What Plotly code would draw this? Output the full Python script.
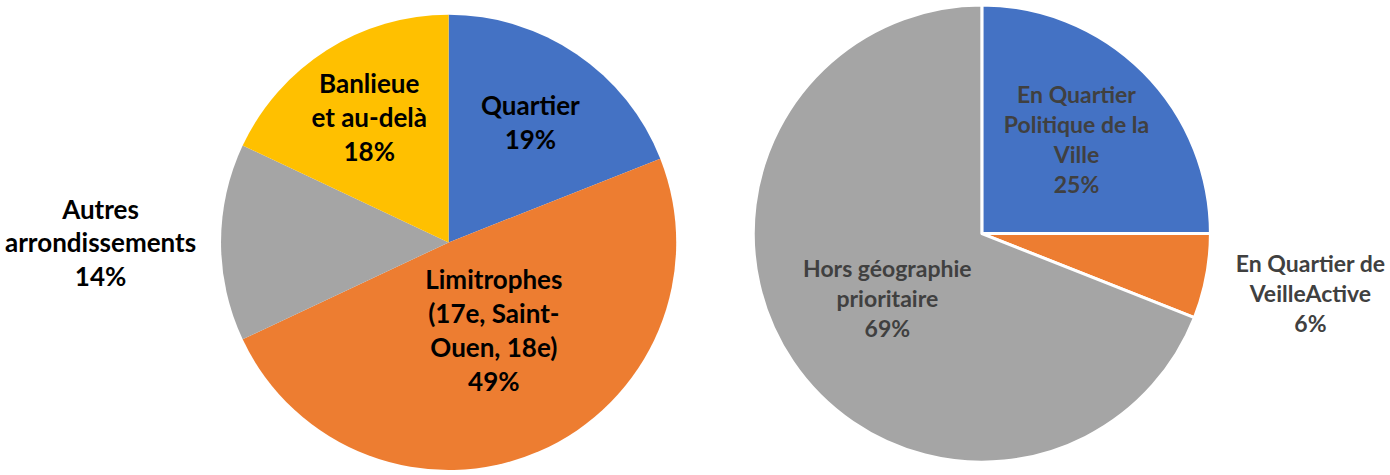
import plotly.graph_objects as go

# Left pie: origin of participants
left_labels = ["Quartier", "Limitrophes<br>(17e, Saint-<br>Ouen, 18e)", "Autres<br>arrondissements", "Banlieue<br>et au-delà"]
left_values = [19, 49, 14, 18]
left_colors = ["#4472C4", "#ED7D31", "#A5A5A5", "#FFC000"]
left_positions = ["inside", "inside", "outside", "inside"]

# Right pie: priority geography
right_labels = ["En Quartier<br>Politique de la<br>Ville", "En Quartier de<br>VeilleActive", "Hors géographie<br>prioritaire"]
right_values = [25, 6, 69]
right_colors = ["#4472C4", "#ED7D31", "#A5A5A5"]
right_positions = ["inside", "outside", "inside"]

W, H = 1390, 475
BASE = "%{label}<br>%{percent:.0%}"
PAD = "\u00a0"

left_templates = [BASE, BASE + "<br>" + PAD, BASE, BASE]
right_templates = [BASE, PAD + "<br>" + BASE, BASE]

fig = go.Figure()

fig.add_trace(go.Pie(
    labels=left_labels,
    values=left_values,
    sort=False,
    direction="clockwise",
    rotation=0,
    marker=dict(colors=left_colors, line=dict(width=0)),
    texttemplate=left_templates,
    textposition=left_positions,
    insidetextorientation="horizontal",
    textfont=dict(family="Lato", size=26, color="#000000", weight="bold"),
    domain=dict(x=[212 / W, 674 / W], y=[1 / H, 463 / H]),
    showlegend=False,
    hovertemplate="%{label}: %{percent:.0%}<extra></extra>",
))

fig.add_trace(go.Pie(
    labels=right_labels,
    values=right_values,
    sort=False,
    direction="clockwise",
    rotation=0,
    marker=dict(colors=right_colors, line=dict(width=3, color="#FFFFFF")),
    texttemplate=right_templates,
    textposition=right_positions,
    insidetextorientation="horizontal",
    textfont=dict(family="Lato", size=23, color="#404040", weight="bold"),
    domain=dict(x=[752 / W, 1216 / W], y=[9 / H, 473 / H]),
    showlegend=False,
    hovertemplate="%{label}: %{percent:.0%}<extra></extra>",
))

fig.update_layout(
    width=W,
    height=H,
    margin=dict(l=0, r=0, t=0, b=0),
    paper_bgcolor="#FFFFFF",
    plot_bgcolor="#FFFFFF",
)

fig.write_html("out.html", config={"displayModeBar": False},
               post_script="document.body.style.margin='0';")
